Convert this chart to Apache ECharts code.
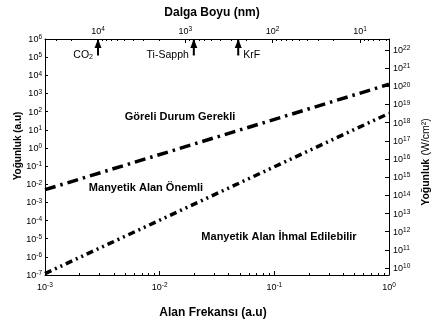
<!DOCTYPE html>
<html><head><meta charset="utf-8">
<script src="https://cdn.jsdelivr.net/npm/echarts@6/dist/echarts.min.js"></script>
<style>html,body{margin:0;padding:0;background:#fff}#c{width:445px;height:326px}</style>
</head><body><div id="c"></div>
<script>
// ---- data ----
const frequency = [0.001, 1];                 // Alan Frekansı (a.u)
const relativisticBoundary = [0.005, 3200];   // Göreli Durum Gerekli (a.u)
const magneticBoundary = [1.2e-7, 80];        // Manyetik Alan Önemli (a.u)
const freqTickExp = [-3, -2, -1, 0];
const leftTickExp = [-7, -6, -5, -4, -3, -2, -1, 0, 1, 2, 3, 4, 5, 6];
const rightTickExp = [10, 11, 12, 13, 14, 15, 16, 17, 18, 19, 20, 21, 22];
const waveTickExp = [4, 3, 2, 1];
const laserNames = ['CO2', 'Ti-Sapph', 'KrF'];
const laserWavelength = [10000, 800, 248];    // nm

// ---- helpers ----
const FONT = 'Liberation Sans, Arial, sans-serif';
const lg = Math.log10;
function minorsFor(lo, hi) {
  const out = [];
  for (let d = Math.floor(lo); d < Math.ceil(hi); d++) {
    for (let k = 2; k <= 9; k++) {
      const v = d + lg(k);
      if (v > lo && v < hi) out.push(v);
    }
  }
  return out;
}
const supRich = {
  b: { fontSize: 9, fontFamily: FONT, color: '#000', lineHeight: 10, verticalAlign: 'bottom' },
  s: { fontSize: 6.5, fontFamily: FONT, color: '#000', lineHeight: 8, verticalAlign: 'top', padding: [0, 0, 6, 0] }
};
const powLabel = v => '{b|10}{s|' + Math.round(v) + '}';

const bottomRange = [-3, 0];
const leftRange = [-7, 6];
const rightRange = [9.62, 22.6];
const topRange = [0.668, 4.607];

const axisLine = { show: true, onZero: false, lineStyle: { color: '#000', width: 1 } };
const noLine = { show: false, onZero: false };

const chart = echarts.init(document.getElementById('c'), null, { renderer: 'canvas' });

const rect = { left: 45, right: 56, top: 39, bottom: 51, containLabel: false };

const lineSeries = (data, dash, name) => ({
  name, type: 'line', xAxisIndex: 0, yAxisIndex: 0, symbol: 'none', clip: false,
  data: frequency.map((f, i) => [lg(f), lg(data[i])]),
  lineStyle: { color: '#000', width: 3.5, type: dash, cap: 'butt' }, z: 3
});

const arrowSeries = laserNames.map((nm, i) => {
  const x = lg(laserWavelength[i]);
  const isRight = nm === 'KrF';
  const labelText = nm === 'CO2' ? '{a|CO}{u|2}' : '{a|' + nm + '}';
  return {
    type: 'line', xAxisIndex: 1, yAxisIndex: 0, clip: false, showSymbol: true,
    lineStyle: { color: '#000', width: 2 }, z: 5,
    data: [
      { value: [x, 6], symbol: 'triangle', symbolSize: [7, 9], symbolOffset: [0, 4.5], itemStyle: { color: '#000' } },
      { value: [x, 5.12], symbol: 'rect', symbolSize: [2, 1], itemStyle: { color: '#000' },
        label: { show: true, position: isRight ? 'right' : 'left', distance: 4, formatter: labelText,
          rich: { a: { fontSize: 10.5, fontFamily: FONT, color: '#000' },
                  u: { fontSize: 7, fontFamily: FONT, color: '#000', verticalAlign: 'bottom', padding: [5, 0, 0, 0] } } } }
    ]
  };
});

chart.setOption({
  animation: false,
  backgroundColor: '#fff',
  grid: [rect, Object.assign({}, rect)],
  xAxis: [
    { gridIndex: 0, type: 'value', position: 'bottom', min: bottomRange[0], max: bottomRange[1], interval: 1,
      axisLine, splitLine: { show: false },
      axisTick: { inside: true, length: 4, customValues: freqTickExp, lineStyle: { color: '#000' } },
      axisLabel: { margin: 7, customValues: freqTickExp, formatter: powLabel, rich: supRich } },
    { gridIndex: 0, type: 'value', position: 'top', inverse: true, min: topRange[0], max: topRange[1],
      axisLine, splitLine: { show: false },
      axisTick: { inside: true, length: 4, customValues: waveTickExp, lineStyle: { color: '#000' } },
      axisLabel: { margin: 3, customValues: waveTickExp, formatter: powLabel, rich: supRich } },
    { gridIndex: 1, type: 'value', position: 'bottom', min: bottomRange[0], max: bottomRange[1],
      axisLine: noLine, splitLine: { show: false }, axisLabel: { show: false },
      axisTick: { inside: true, length: 2, customValues: minorsFor(bottomRange[0], bottomRange[1]), lineStyle: { color: '#000' } } },
    { gridIndex: 1, type: 'value', position: 'top', inverse: true, min: topRange[0], max: topRange[1],
      axisLine: noLine, splitLine: { show: false }, axisLabel: { show: false },
      axisTick: { inside: true, length: 2, customValues: minorsFor(topRange[0], topRange[1]), lineStyle: { color: '#000' } } }
  ],
  yAxis: [
    { gridIndex: 0, type: 'value', position: 'left', min: leftRange[0], max: leftRange[1], interval: 1,
      axisLine, splitLine: { show: false },
      axisTick: { inside: true, length: 3, customValues: leftTickExp, lineStyle: { color: '#000' } },
      axisLabel: { margin: 3, customValues: leftTickExp, formatter: powLabel, rich: supRich } },
    { gridIndex: 0, type: 'value', position: 'right', min: rightRange[0], max: rightRange[1],
      axisLine, splitLine: { show: false },
      axisTick: { inside: true, length: 4, customValues: rightTickExp, lineStyle: { color: '#000' } },
      axisLabel: { margin: 4, customValues: rightTickExp, formatter: powLabel, rich: supRich } },
    { gridIndex: 1, type: 'value', min: leftRange[0], max: leftRange[1], show: false }
  ],
  series: [
    lineSeries(relativisticBoundary, [11, 5, 2.5, 5], 'Göreli'),
    lineSeries(magneticBoundary, [7, 4, 2, 4, 2, 4], 'Manyetik'),
    ...arrowSeries
  ],
  graphic: [
    { type: 'text', x: 212, y: 13, style: { text: 'Dalga Boyu (nm)', font: 'bold 12px ' + FONT, fill: '#000', textAlign: 'center', textVerticalAlign: 'middle' } },
    { type: 'text', x: 213, y: 313, style: { text: 'Alan Frekansı (a.u)', font: 'bold 12px ' + FONT, fill: '#000', textAlign: 'center', textVerticalAlign: 'middle' } },
    { type: 'text', x: 18, y: 146, rotation: Math.PI / 2, style: { text: 'Yoğunluk (a.u)', font: 'bold 10px ' + FONT, fill: '#000', textAlign: 'center', textVerticalAlign: 'middle' } },
    { type: 'text', x: 426, y: 162, rotation: Math.PI / 2, style: {
        text: '{b|Yoğunluk} {r|(W/cm²)}', textAlign: 'center', textVerticalAlign: 'middle',
        rich: { b: { font: 'bold 10.5px ' + FONT, fill: '#000' }, r: { font: '10.5px ' + FONT, fill: '#000' } } } },
    { type: 'text', x: 180, y: 117, style: { text: 'Göreli Durum Gerekli', font: 'bold 11px ' + FONT, fill: '#000', textAlign: 'center', textVerticalAlign: 'middle' } },
    { type: 'text', x: 146, y: 188, style: { text: 'Manyetik Alan Önemli', font: 'bold 11px ' + FONT, fill: '#000', textAlign: 'center', textVerticalAlign: 'middle' } },
    { type: 'text', x: 279, y: 237, style: { text: 'Manyetik Alan İhmal Edilebilir', font: 'bold 11px ' + FONT, fill: '#000', textAlign: 'center', textVerticalAlign: 'middle' } }
  ]
});
</script></body></html>
